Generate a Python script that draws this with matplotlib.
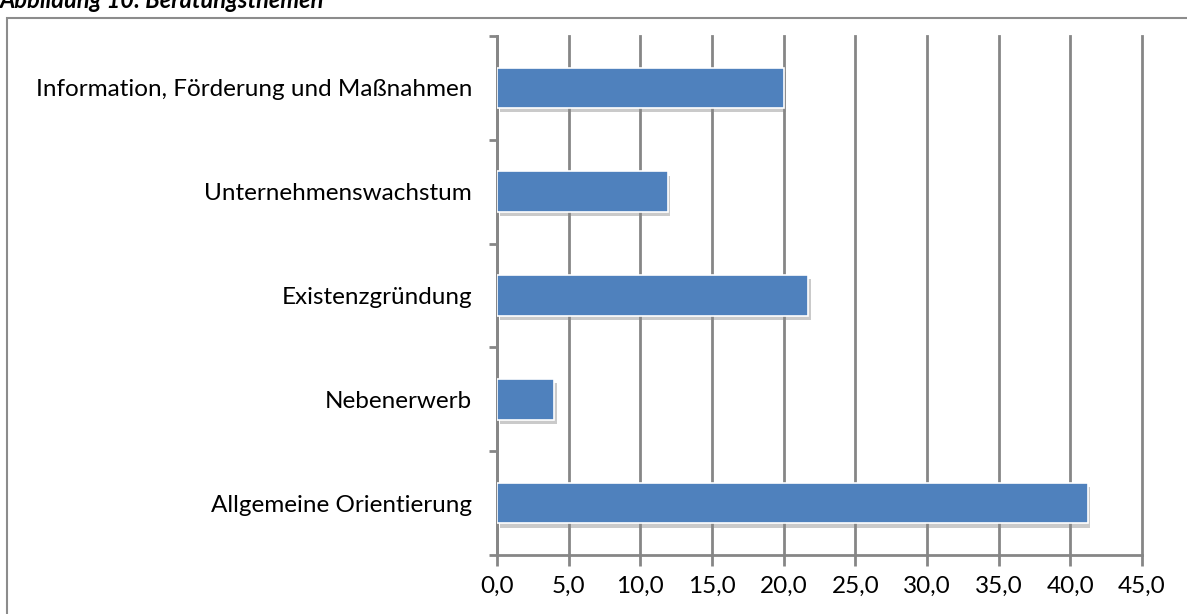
import matplotlib.pyplot as plt
import matplotlib.patheffects as pe
from matplotlib.patches import Rectangle

# Beratungsthemen, Anteile in Prozent
themen = [
    "Allgemeine Orientierung",
    "Nebenerwerb",
    "Existenzgründung",
    "Unternehmenswachstum",
    "Information, Förderung und Maßnahmen",
]
anteile = [41.2, 4.0, 21.7, 11.9, 20.0]
x_ticks = [0, 5, 10, 15, 20, 25, 30, 35, 40, 45]

bar_color = "#4F81BD"
grid_color = "#868686"

plt.rcParams["font.family"] = ["Lato", "DejaVu Sans"]

fig = plt.figure(figsize=(11.87, 6.14), dpi=100)
W, H = 1187, 614

# chart frame (partly off the page)
fig.patches.append(Rectangle((7 / W, -0.1), 1.1, (614 - 18) / H + 0.1,
                             transform=fig.transFigure, fill=False,
                             edgecolor="#8c8c8c", linewidth=1.5))

fig.text(0.0, 1.0 - 1 / H, "Abbildung 10: Beratungsthemen", ha="left", va="center",
         fontsize=17, fontweight="bold", fontstyle="italic", color="black")

ax = fig.add_axes([497 / W, (614 - 555) / H, (1142 - 497) / W, (555 - 36) / H])

y = list(range(len(themen)))
shadow = [pe.SimplePatchShadow(offset=(2, -3), shadow_rgbFace="#8a8a8a", alpha=0.45), pe.Normal()]
bars = ax.barh(y, anteile, height=0.39, color=bar_color, edgecolor="white",
               linewidth=1.2, zorder=3)
for b in bars:
    b.set_path_effects(shadow)

ax.set_xlim(0, 45)
ax.set_ylim(-0.5, len(themen) - 0.5)
ax.set_xticks(x_ticks)
ax.set_xticklabels([f"{v:.1f}".replace(".", ",") for v in x_ticks], fontsize=17.5)
ax.set_yticks(y)
ax.set_yticklabels(themen, fontsize=17.5)
ax.set_yticks([i - 0.5 for i in range(len(themen) + 1)], minor=True)

ax.xaxis.grid(True, color=grid_color, linewidth=2, zorder=0)
for gl in ax.get_xgridlines():
    gl.set_clip_on(False)
ax.tick_params(axis="x", direction="out", length=8, width=2, color=grid_color, pad=7)
ax.tick_params(axis="y", which="major", length=0, pad=18)
ax.tick_params(axis="y", which="minor", direction="out", length=6, width=2, color=grid_color)

for side in ("top", "right"):
    ax.spines[side].set_visible(False)
for side in ("left", "bottom"):
    ax.spines[side].set_color(grid_color)
    ax.spines[side].set_linewidth(2)

fig.savefig("out.png", dpi=100)
